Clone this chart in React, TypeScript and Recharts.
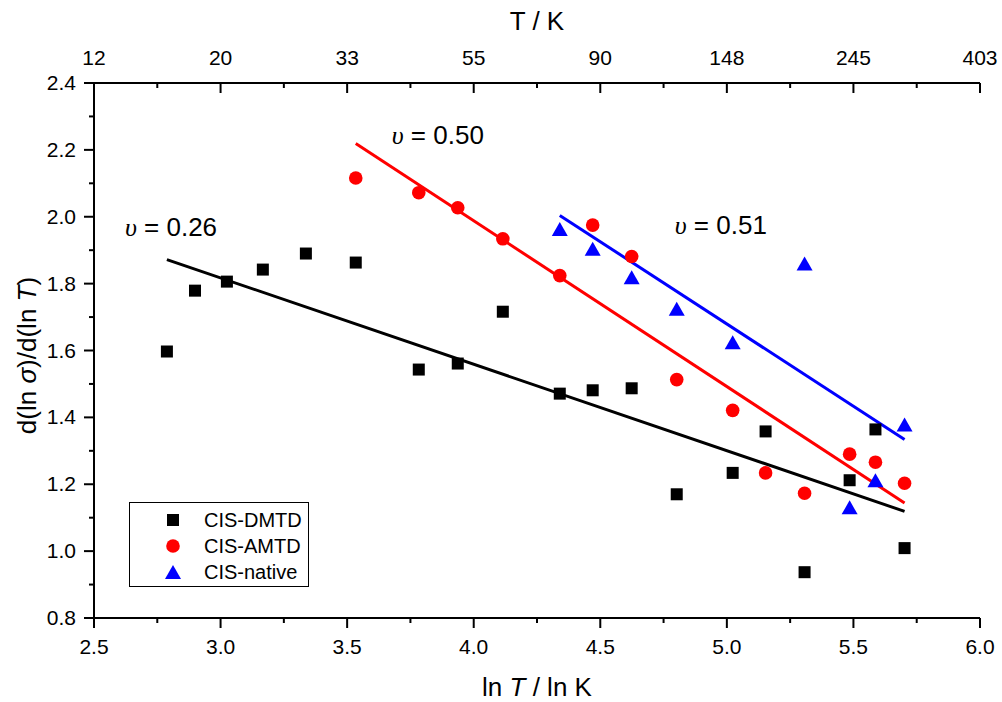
import { ReferenceDot, Scatter, ScatterChart, XAxis, YAxis } from "recharts";

// ln T positions and slope values
const DMTD_LNT = [2.788, 2.899, 3.025, 3.167, 3.337, 3.534, 3.783, 3.937, 4.115, 4.34, 4.47, 4.624, 4.802, 5.023, 5.153, 5.307, 5.485, 5.587, 5.702];
const DMTD_VAL = [1.597, 1.779, 1.806, 1.842, 1.89, 1.863, 1.543, 1.561, 1.716, 1.471, 1.481, 1.487, 1.17, 1.234, 1.358, 0.937, 1.212, 1.364, 1.009];
const AMTD_LNT = [3.534, 3.783, 3.937, 4.115, 4.34, 4.47, 4.624, 4.802, 5.023, 5.153, 5.307, 5.485, 5.587, 5.702];
const AMTD_VAL = [2.116, 2.072, 2.027, 1.934, 1.824, 1.975, 1.881, 1.513, 1.421, 1.234, 1.173, 1.29, 1.266, 1.203];
const NATIVE_LNT = [4.34, 4.47, 4.624, 4.802, 5.023, 5.307, 5.485, 5.587, 5.702];
const NATIVE_VAL = [1.963, 1.904, 1.819, 1.725, 1.625, 1.86, 1.131, 1.212, 1.379];

// linear fits (end points)
const DMTD_FIT_LNT = [2.788, 5.702];
const DMTD_FIT_VAL = [1.872, 1.119];
const AMTD_FIT_LNT = [3.534, 5.702];
const AMTD_FIT_VAL = [2.219, 1.144];
const NATIVE_FIT_LNT = [4.34, 5.702];
const NATIVE_FIT_VAL = [2.004, 1.334];

const SERIES_NAMES = ["CIS-DMTD", "CIS-AMTD", "CIS-native"];
const NU_VALUES = ["0.26", "0.50", "0.51"];

const X_TICKS = [2.5, 2.75, 3, 3.25, 3.5, 3.75, 4, 4.25, 4.5, 4.75, 5, 5.25, 5.5, 5.75, 6];
const X_MAJOR = [2.5, 3, 3.5, 4, 4.5, 5, 5.5, 6];
const X_LABELS = ["2.5", "3.0", "3.5", "4.0", "4.5", "5.0", "5.5", "6.0"];
const T_LABELS = ["12", "20", "33", "55", "90", "148", "245", "403"];
const Y_TICKS = [0.8, 0.9, 1.0, 1.1, 1.2, 1.3, 1.4, 1.5, 1.6, 1.7, 1.8, 1.9, 2.0, 2.1, 2.2, 2.3, 2.4];
const Y_MAJOR = [0.8, 1.0, 1.2, 1.4, 1.6, 1.8, 2.0, 2.2, 2.4];
const Y_LABELS = ["0.8", "1.0", "1.2", "1.4", "1.6", "1.8", "2.0", "2.2", "2.4"];

const FONT = '"Liberation Sans", Arial, sans-serif';
const SERIF = '"Liberation Serif", "Times New Roman", serif';
const COLORS = ["#000000", "#ff0000", "#0000ff"];
const TICK_FS = 21;
const TITLE_FS = 26;

const toPoints = (xs: number[], ys: number[]) => xs.map((x, i) => ({ x, y: ys[i] }));

const majorIndex = (v: number, majors: number[]) =>
	majors.findIndex((m) => Math.abs(m - v) < 1e-6);

function BottomTick(props: any) {
	const { x, y, payload } = props;
	const i = majorIndex(payload.value, X_MAJOR);
	return (
		<g>
			<line x1={x} x2={x} y1={y} y2={y + (i >= 0 ? 10 : 5)} stroke="#000" strokeWidth={2} />
			{i >= 0 && (
				<text x={x} y={y + 36} textAnchor="middle" fontSize={TICK_FS} fontFamily={FONT} fill="#000">
					{X_LABELS[i]}
				</text>
			)}
		</g>
	);
}

function TopTick(props: any) {
	const { x, y, payload } = props;
	const i = majorIndex(payload.value, X_MAJOR);
	return (
		<g>
			<line x1={x} x2={x} y1={y} y2={y + (i >= 0 ? 10 : 5)} stroke="#000" strokeWidth={2} />
			{i >= 0 && (
				<text x={x} y={y - 18} textAnchor="middle" fontSize={TICK_FS} fontFamily={FONT} fill="#000">
					{T_LABELS[i]}
				</text>
			)}
		</g>
	);
}

function LeftTick(props: any) {
	const { x, y, payload } = props;
	const i = majorIndex(payload.value, Y_MAJOR);
	return (
		<g>
			<line x1={x} x2={x - (i >= 0 ? 10 : 5)} y1={y} y2={y} stroke="#000" strokeWidth={2} />
			{i >= 0 && (
				<text x={x - 18} y={y + 7} textAnchor="end" fontSize={TICK_FS} fontFamily={FONT} fill="#000">
					{Y_LABELS[i]}
				</text>
			)}
		</g>
	);
}

function Marker({ kind, cx, cy }: { kind: number; cx: number; cy: number }) {
	if (kind === 0) return <rect x={cx - 6} y={cy - 6} width={12} height={12} fill={COLORS[0]} />;
	if (kind === 1) return <circle cx={cx} cy={cy} r={6.8} fill={COLORS[1]} />;
	return <polygon points={`${cx},${cy - 7} ${cx + 8},${cy + 7} ${cx - 8},${cy + 7}`} fill={COLORS[2]} />;
}

function NuLabel(props: any) {
	const vb = props.viewBox ?? { x: 0, y: 0 };
	return (
		<text x={vb.x} y={vb.y} fontSize={26} fontFamily={FONT} fill="#000">
			<tspan fontFamily={SERIF} fontStyle="italic">υ</tspan>
			{` = ${props.nu}`}
		</text>
	);
}

const emptyShape = () => <g />;

export default function App() {
	return (
		<div style={{ position: "absolute", left: 0, top: 0, width: 1002, height: 702, background: "#fff", fontFamily: FONT }}>
			<ScatterChart width={1002} height={702} margin={{ top: 43, right: 22, bottom: 0, left: 34 }}>
				<XAxis
					xAxisId="bottom"
					type="number"
					dataKey="x"
					orientation="bottom"
					domain={[2.5, 6]}
					ticks={X_TICKS}
					interval={0}
					height={84}
					tickSize={0}
					tickMargin={0}
					tickLine={false}
					tick={<BottomTick />}
					axisLine={{ stroke: "#000", strokeWidth: 2 }}
					allowDataOverflow
					label={{
						content: (p: any) => {
							const vb = p.viewBox ?? { x: 94, y: 618, width: 886 };
							return (
								<text x={vb.x + vb.width / 2} y={vb.y + 78} textAnchor="middle" fontSize={TITLE_FS} fontFamily={FONT} fill="#000">
									{"ln "}
									<tspan fontStyle="italic">T</tspan>
									{" / ln K"}
								</text>
							);
						},
					}}
				/>
				<XAxis
					xAxisId="top"
					type="number"
					dataKey="x"
					orientation="top"
					domain={[2.5, 6]}
					ticks={X_TICKS}
					interval={0}
					height={40}
					tickSize={0}
					tickMargin={0}
					tickLine={false}
					tick={<TopTick />}
					axisLine={{ stroke: "#000", strokeWidth: 2 }}
					allowDataOverflow
					label={{
						content: (p: any) => {
							const vb = p.viewBox ?? { x: 94, y: 43, width: 886 };
							return (
								<text x={vb.x + vb.width / 2} y={vb.y - 13} textAnchor="middle" fontSize={TITLE_FS} fontFamily={FONT} fill="#000">
									T / K
								</text>
							);
						},
					}}
				/>
				<YAxis
					yAxisId="left"
					type="number"
					dataKey="y"
					domain={[0.8, 2.4]}
					ticks={Y_TICKS}
					interval={0}
					width={60}
					tickSize={0}
					tickMargin={0}
					tickLine={false}
					tick={<LeftTick />}
					axisLine={{ stroke: "#000", strokeWidth: 2 }}
					allowDataOverflow
					label={{
						content: (p: any) => {
							const vb = p.viewBox ?? { x: 34, y: 83, height: 535 };
							const cy = vb.y + vb.height / 2 + 5;
							return (
								<text transform={`translate(${vb.x + 2}, ${cy}) rotate(-90)`} textAnchor="middle" fontSize={TITLE_FS} fontFamily={FONT} fill="#000">
									{"d(ln "}
									<tspan fontStyle="italic">σ</tspan>
									{")/d(ln "}
									<tspan fontStyle="italic">T</tspan>
									{")"}
								</text>
							);
						},
					}}
				/>

				<Scatter xAxisId="top" yAxisId="left" data={toPoints(DMTD_FIT_LNT, DMTD_FIT_VAL)} line={{ stroke: COLORS[0], strokeWidth: 3 }} shape={emptyShape} isAnimationActive={false} />
				<Scatter xAxisId="top" yAxisId="left" data={toPoints(AMTD_FIT_LNT, AMTD_FIT_VAL)} line={{ stroke: COLORS[1], strokeWidth: 3 }} shape={emptyShape} isAnimationActive={false} />
				<Scatter xAxisId="top" yAxisId="left" data={toPoints(NATIVE_FIT_LNT, NATIVE_FIT_VAL)} line={{ stroke: COLORS[2], strokeWidth: 3 }} shape={emptyShape} isAnimationActive={false} />

				<Scatter name={SERIES_NAMES[0]} xAxisId="bottom" yAxisId="left" data={toPoints(DMTD_LNT, DMTD_VAL)} shape={(p: any) => <Marker kind={0} cx={p.cx} cy={p.cy} />} isAnimationActive={false} />
				<Scatter name={SERIES_NAMES[1]} xAxisId="bottom" yAxisId="left" data={toPoints(AMTD_LNT, AMTD_VAL)} shape={(p: any) => <Marker kind={1} cx={p.cx} cy={p.cy} />} isAnimationActive={false} />
				<Scatter name={SERIES_NAMES[2]} xAxisId="bottom" yAxisId="left" data={toPoints(NATIVE_LNT, NATIVE_VAL)} shape={(p: any) => <Marker kind={2} cx={p.cx} cy={p.cy} />} isAnimationActive={false} />

				<ReferenceDot xAxisId="bottom" yAxisId="left" x={2.622} y={1.943} r={0} fill="none" stroke="none" label={{ content: (p: any) => <NuLabel {...p} nu={NU_VALUES[0]} /> }} />
				<ReferenceDot xAxisId="bottom" yAxisId="left" x={3.676} y={2.218} r={0} fill="none" stroke="none" label={{ content: (p: any) => <NuLabel {...p} nu={NU_VALUES[1]} /> }} />
				<ReferenceDot xAxisId="bottom" yAxisId="left" x={4.794} y={1.949} r={0} fill="none" stroke="none" label={{ content: (p: any) => <NuLabel {...p} nu={NU_VALUES[2]} /> }} />
			</ScatterChart>

			<div
				style={{
					position: "absolute",
					left: 129,
					top: 502,
					width: 180,
					height: 85,
					boxSizing: "border-box",
					border: "1.5px solid #000",
					background: "#fff",
					paddingTop: 4,
				}}
			>
				{SERIES_NAMES.map((name, i) => (
					<div key={name} style={{ display: "flex", alignItems: "center", height: 26, whiteSpace: "nowrap" }}>
						<svg width={20} height={20} style={{ marginLeft: 33, flexShrink: 0 }}>
							<Marker kind={i} cx={10} cy={10} />
						</svg>
						<span style={{ marginLeft: 21, fontSize: 20, color: "#000", lineHeight: "26px" }}>{name}</span>
					</div>
				))}
			</div>
		</div>
	);
}
